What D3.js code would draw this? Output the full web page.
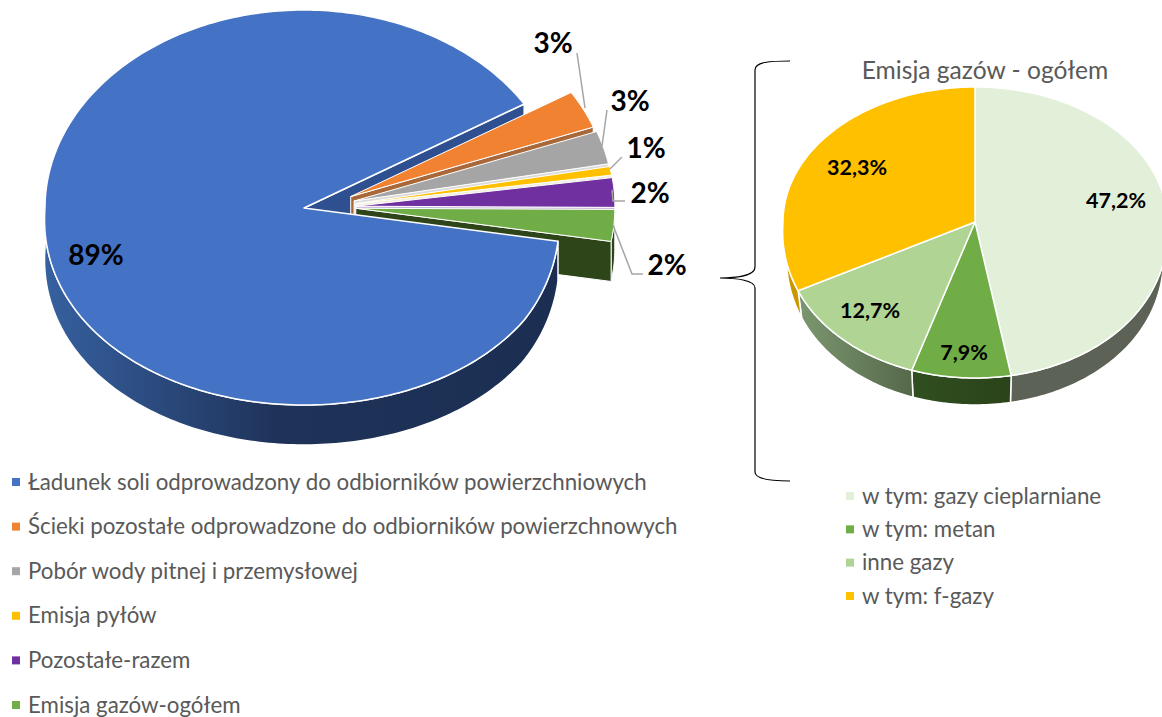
<!DOCTYPE html>
<html>
  <head>
    <style>
      body { margin: 0; background: #fff; }
      text { font-family: Lato, "Open Sans", sans-serif; }
      .legend { fill: #595959; font-size: 22.3px; }
      .value { fill: #000; font-weight: bold; }
    </style>
    <script src="https://d3js.org/d3.v7.min.js"></script>
  </head>

  <body>
    <svg width="1162" height="717"></svg>

    <script>
      // main pie
      var categories = [
        "Ładunek soli odprowadzony do odbiorników powierzchniowych",
        "Ścieki pozostałe odprowadzone do odbiorników powierzchnowych",
        "Pobór wody pitnej i przemysłowej",
        "Emisja pyłów",
        "Pozostałe-razem",
        "Emisja gazów-ogółem"
      ];
      var values = [88.5, 3.1, 2.7, 0.7, 2.4, 2.6];
      var valueLabels = ["89%", "3%", "3%", "1%", "2%", "2%"];
      var colors = ["#4472C4", "#F08232", "#A5A5A5", "#FFC000", "#7030A0", "#70AD47"];
      var sideColors = ["#2F5090", "#A8683A", "#DADADA", "#F3EFE0", "#C8B4D8", "#2D4519"];

      // small pie
      var gasTitle = "Emisja gazów - ogółem";
      var gasCategories = ["w tym: gazy cieplarniane", "w tym: metan", "inne gazy", "w tym: f-gazy"];
      var gasValues = [47.2, 7.9, 12.7, 32.3];
      var gasLabels = ["47,2%", "7,9%", "12,7%", "32,3%"];
      var gasColors = ["#E2F0D9", "#70AD47", "#AFD493", "#FFC000"];

      var svg = d3.select("svg");
      var defs = svg.append("defs");
      var rad = Math.PI / 180;
      var perspective = 0.06;

      function gradient(id, x1, x2, stops) {
        var g = defs.append("linearGradient").attr("id", id)
          .attr("gradientUnits", "userSpaceOnUse")
          .attr("x1", x1).attr("x2", x2).attr("y1", 0).attr("y2", 0);
        stops.forEach(function (s) {
          g.append("stop").attr("offset", s[0]).attr("stop-color", s[1]);
        });
        return "url(#" + id + ")";
      }

      var line = d3.line();

      // outline of a tilted pie: x/y scales take the unit circle to the picture,
      // the near half is a little wider (k)
      function rimPoints(sx, sy, a0, a1, ox, oy, k) {
        var n = Math.max(2, Math.ceil((a1 - a0) / rad));
        return d3.range(n + 1).map(function (i) {
          var a = a0 + ((a1 - a0) * i) / n;
          var wide = 1 + k * Math.max(0, -Math.cos(a));
          return [sx(Math.sin(a) * wide) + ox, sy(-Math.cos(a)) + oy];
        });
      }
      function hub(sx, sy, ox, oy) {
        return [sx(0) + ox, sy(0) + oy];
      }
      // same points lower down, reversed so they close a wall
      function shifted(pts, depth, cx, shrink) {
        return pts.map(function (p) {
          var x = cx === undefined ? p[0] : cx + (p[0] - cx) * shrink;
          return [x, p[1] + depth];
        }).reverse();
      }
      // part of the rim on the near side of the pie
      function nearPart(a0, a1) {
        var turns = Math.floor(a0 / (2 * Math.PI));
        var lo = Math.max(a0, (turns * 360 + 90) * rad);
        var hi = Math.min(a1, (turns * 360 + 270) * rad);
        return lo < hi ? [lo, hi] : null;
      }
      function drawPoly(g, pts, fill, sw) {
        g.append("path").attr("d", line(pts) + "Z").attr("fill", fill)
          .attr("stroke", "#fff").attr("stroke-width", sw || 1.5).attr("stroke-linejoin", "round");
      }

      // ---- main pie
      var mainX = d3.scaleLinear().domain([-1, 1]).range([45, 563]);
      var blueX = d3.scaleLinear().domain([-1, 0, 0.85, 1]).range([45, 304, 524, 559]);
      var mainY = d3.scaleLinear().domain([-1, 0, 1]).range([10, 208, 405]);
      var mainDepth = 40;
      var explodeX = 52, explodeY = 26;
      var mainArcs = d3.pie().sort(null)
        .startAngle(99.7 * rad).endAngle(459.7 * rad)(values);
      var g = svg.append("g");

      var blueSide = gradient("blueSide", 45, 560, [
        [0, "#36609F"], [0.45, "#1F3359"], [1, "#1B2E52"]
      ]);

      // blue cut face behind the exploded slices
      var blue = mainArcs[0];
      var bluePt = rimPoints(blueX, mainY, blue.endAngle, blue.endAngle, 0, 0, perspective)[0];
      var edge = [hub(blueX, mainY, 0, 0), bluePt];
      drawPoly(g, edge.concat(shifted(edge, mainDepth)), sideColors[0]);

      mainArcs.slice(1).forEach(function (d) {
        var i = d.index;
        var mid = (d.startAngle + d.endAngle) / 2;
        var ox = explodeX * Math.sin(mid), oy = -explodeY * Math.cos(mid) - (i === 5 ? 2 : 0);
        var c = hub(mainX, mainY, ox, oy);
        var rim = rimPoints(mainX, mainY, d.startAngle, d.endAngle, ox, oy, 0);
        var near = nearPart(d.startAngle, d.endAngle);
        if (near) {
          var r = rimPoints(mainX, mainY, near[0], near[1], ox, oy, 0);
          drawPoly(g, r.concat(shifted(r, mainDepth)), sideColors[i], 1);
        }
        var cut = [c, rim[rim.length - 1]];
        drawPoly(g, cut.concat(shifted(cut, mainDepth)), sideColors[i], 1);
        drawPoly(g, [c].concat(rim), colors[i], 1);
      });

      var blueNear = nearPart(blue.startAngle, blue.endAngle);
      var blueRim = rimPoints(blueX, mainY, blueNear[0], blueNear[1], 0, 0, perspective);
      drawPoly(g, blueRim.concat(shifted(blueRim, mainDepth)), blueSide);
      drawPoly(g, [hub(blueX, mainY, 0, 0)].concat(
        rimPoints(blueX, mainY, blue.startAngle, blue.endAngle, 0, 0, perspective)), colors[0]);

      // leader lines
      var leaders = [
        [[577, 53], [585, 108]],
        [[607, 110], [602, 146]],
        [[622, 157], [610, 169]],
        [[625, 201], [613, 201], [612, 190]],
        [[643, 274], [632, 274], [613, 225]]
      ];
      svg.append("g").selectAll("path").data(leaders).enter().append("path")
        .attr("d", function (d) { return line(d); })
        .attr("fill", "none").attr("stroke", "#A5A5A5").attr("stroke-width", 1.5);

      var labelPos = [[96, 254], [553, 42], [630, 100], [646, 147], [650, 192], [667, 264]];
      svg.append("g").selectAll("text").data(valueLabels).enter().append("text")
        .attr("class", "value").attr("font-size", 28).attr("text-anchor", "middle")
        .attr("dominant-baseline", "central")
        .attr("x", function (d, i) { return labelPos[i][0]; })
        .attr("y", function (d, i) { return labelPos[i][1]; })
        .text(function (d) { return d; });

      // ---- small pie
      var gasX = d3.scaleLinear().domain([-1, 1]).range([783, 1167]);
      var gasY = d3.scaleLinear().domain([-1, 0, 1]).range([87, 222, 378]);
      var gasDepth = 27;
      var gasArcs = d3.pie().sort(null).startAngle(0).endAngle(2 * Math.PI)(gasValues);
      var gasSides = [
        "#5D6256",
        gradient("gasSide1", 910, 1012, [[0, "#304F20"], [1, "#2B431A"]]),
        gradient("gasSide2", 797, 911, [[0, "#7C9870"], [1, "#56694B"]]),
        "#C99700"
      ];
      var g2 = svg.append("g");
      gasArcs.forEach(function (d) {
        var near = nearPart(d.startAngle, d.endAngle);
        if (near) {
          var r = rimPoints(gasX, gasY, near[0], near[1], 0, 0, perspective);
          drawPoly(g2, r.concat(shifted(r, gasDepth, gasX(0), 0.98)), gasSides[d.index]);
        }
      });
      gasArcs.forEach(function (d) {
        drawPoly(g2, [hub(gasX, gasY, 0, 0)].concat(
          rimPoints(gasX, gasY, d.startAngle, d.endAngle, 0, 0, perspective)), gasColors[d.index]);
      });

      var gasLabelPos = [[1116, 200], [964, 352], [870, 310], [857, 167]];
      svg.append("g").selectAll("text").data(gasLabels).enter().append("text")
        .attr("class", "value").attr("font-size", 21.5).attr("text-anchor", "middle")
        .attr("dominant-baseline", "central")
        .attr("x", function (d, i) { return gasLabelPos[i][0]; })
        .attr("y", function (d, i) { return gasLabelPos[i][1]; })
        .text(function (d) { return d; });

      svg.append("text").attr("x", 985).attr("y", 79).attr("text-anchor", "middle")
        .attr("font-size", 24.6).attr("fill", "#595959").text(gasTitle);

      // brace between the pies
      svg.append("path")
        .attr("d", "M790,61 C770,61 755,62 755,70 L755,267 C755,276 735,278 720,278 C735,278 755,280 755,288 L755,472 C755,479 770,481 790,481")
        .attr("fill", "none").attr("stroke", "#000").attr("stroke-width", 1.2);

      // legends
      var legendY = d3.scalePoint().domain(categories).range([481, 704]);
      var legend = svg.append("g").selectAll("g").data(categories).enter().append("g")
        .attr("transform", function (d) { return "translate(0," + legendY(d) + ")"; });
      legend.append("rect").attr("x", 12).attr("y", -3).attr("width", 8).attr("height", 8)
        .attr("fill", function (d, i) { return colors[i]; });
      legend.append("text").attr("class", "legend").attr("x", 28)
        .attr("dominant-baseline", "central").text(function (d) { return d; });

      var gasLegendY = d3.scalePoint().domain(gasCategories).range([495, 595]);
      var gasLegend = svg.append("g").selectAll("g").data(gasCategories).enter().append("g")
        .attr("transform", function (d) { return "translate(0," + gasLegendY(d) + ")"; });
      gasLegend.append("rect").attr("x", 846).attr("y", -3).attr("width", 8).attr("height", 8)
        .attr("fill", function (d, i) { return gasColors[i]; });
      gasLegend.append("text").attr("class", "legend").attr("x", 862)
        .attr("dominant-baseline", "central").text(function (d) { return d; });
    </script>
  </body>
</html>
